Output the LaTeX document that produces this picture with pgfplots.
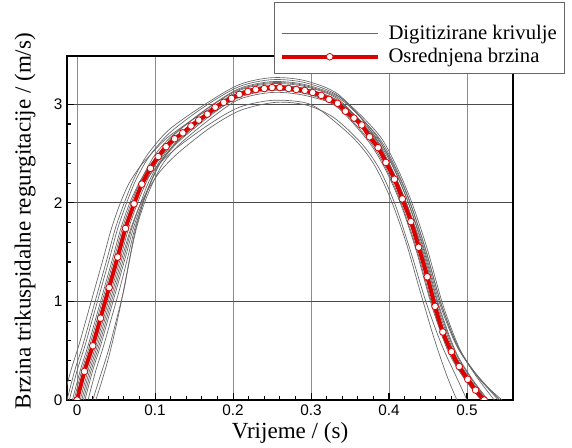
\documentclass[border=0pt]{standalone}
\usepackage{pgfplots}
\pgfplotsset{compat=1.18}
\usepackage{fontspec}
\setmainfont{Liberation Serif}
\newfontfamily\arialfont{Liberation Sans}
\definecolor{meanred}{RGB}{220,0,0}
\begin{document}
\begin{tikzpicture}
\begin{axis}[
  name=ax,
  scale only axis, width=334.5pt, height=258pt,
  xmin=-0.013, xmax=0.559, ymin=0, ymax=3.49,
  xtick={0,0.1,0.2,0.3,0.4,0.5}, ytick={0,1,2,3},
  minor x tick num=4, minor y tick num=4,
  tick align=inside, xtick pos=bottom, ytick pos=left,
  major tick length=5pt, minor tick length=3pt,
  xmajorgrids, ymajorgrids,
  x grid style={black!45, line width=0.6pt},
  y grid style={black!70, line width=0.6pt},
  axis line style={line width=1.3pt},
  every tick/.style={black, line width=0.8pt},
  ticklabel style={font=\arialfont\fontsize{11.5}{13}\selectfont},
  /pgf/number format/assume math mode=true,
  /pgf/number format/fixed,
  label style={font=\fontsize{17.3}{19}\selectfont},
  xlabel={Vrijeme / (s)},
  ylabel={Brzina trikuspidalne regurgitacije / (m/s)},
  xlabel style={at={(axis description cs:0.5,-0.095)}, anchor=center},
  ylabel style={at={(axis description cs:-0.094,0.52)}, anchor=center},
  clip marker paths=true,
  legend style={at={(axis description cs:0.464,1.157)}, anchor=north west,
    draw=black!60, fill=white, font=\fontsize{15.5}{18}\selectfont,
    inner xsep=4pt, inner ysep=4pt, row sep=1pt, cells={anchor=west}},
  legend image code/.code={\draw[mark repeat=2,mark phase=2,#1] plot coordinates {(0cm,0cm) (1.27cm,0cm) (2.54cm,0cm)};},
  gr/.style={black!60, line width=0.5pt, smooth, no markers},
]
\addlegendimage{empty legend}
\addlegendentry{\rule{0pt}{5pt}}
% Digitized curves
\addplot[gr] coordinates {(-0.018,0) (-0.008,0.30) (0.002,0.55) (0.012,0.83) (0.023,1.14) (0.034,1.45) (0.044,1.74) (0.055,1.99) (0.066,2.19) (0.079,2.35) (0.092,2.47) (0.117,2.67) (0.163,2.92) (0.208,3.12) (0.250,3.19) (0.292,3.16) (0.334,3.03) (0.375,2.68) (0.396,2.41) (0.417,2.04) (0.438,1.55) (0.459,0.95) (0.480,0.49) (0.501,0.21) (0.522,0)};
\addlegendentry{\hspace{4.5pt}Digitizirane krivulje}
\addplot[gr, forget plot] coordinates {(-0.010,0) (0.0,0.30) (0.010,0.55) (0.020,0.83) (0.031,1.14) (0.042,1.45) (0.052,1.74) (0.063,1.99) (0.074,2.21) (0.086,2.39) (0.097,2.52) (0.120,2.72) (0.164,2.98) (0.208,3.18) (0.250,3.25) (0.292,3.22) (0.336,3.08) (0.380,2.72) (0.401,2.44) (0.422,2.06) (0.443,1.56) (0.464,0.96) (0.485,0.50) (0.506,0.22) (0.527,0)};
\addplot[gr, forget plot] coordinates {(-0.004,0) (0.006,0.30) (0.016,0.55) (0.026,0.83) (0.037,1.14) (0.048,1.45) (0.058,1.74) (0.069,1.99) (0.080,2.20) (0.091,2.37) (0.101,2.50) (0.123,2.69) (0.166,2.95) (0.208,3.15) (0.250,3.22) (0.292,3.19) (0.338,3.05) (0.383,2.70) (0.404,2.43) (0.425,2.05) (0.446,1.55) (0.467,0.97) (0.488,0.55) (0.510,0.28) (0.530,0.10) (0.542,0)};
\addplot[gr, forget plot] coordinates {(0.004,0) (0.014,0.30) (0.024,0.55) (0.034,0.83) (0.045,1.14) (0.056,1.45) (0.066,1.74) (0.077,1.99) (0.087,2.18) (0.097,2.34) (0.107,2.46) (0.127,2.65) (0.168,2.92) (0.208,3.12) (0.250,3.19) (0.292,3.16) (0.336,3.03) (0.378,2.69) (0.399,2.42) (0.420,2.04) (0.441,1.55) (0.462,0.95) (0.483,0.49) (0.504,0.21) (0.525,0)};
\addplot[gr, forget plot] coordinates {(0.010,0) (0.020,0.30) (0.030,0.55) (0.040,0.83) (0.051,1.14) (0.062,1.45) (0.072,1.74) (0.082,1.97) (0.091,2.15) (0.100,2.31) (0.109,2.43) (0.130,2.62) (0.170,2.88) (0.208,3.08) (0.250,3.15) (0.292,3.12) (0.332,2.99) (0.372,2.66) (0.393,2.40) (0.414,2.03) (0.435,1.54) (0.456,0.95) (0.477,0.49) (0.498,0.21) (0.519,0)};
\addplot[gr, forget plot] coordinates {(0.020,0) (0.030,0.25) (0.040,0.50) (0.050,0.80) (0.060,1.12) (0.068,1.45) (0.076,1.74) (0.085,1.97) (0.094,2.15) (0.103,2.30) (0.112,2.42) (0.132,2.60) (0.172,2.86) (0.208,3.05) (0.250,3.12) (0.292,3.09) (0.336,2.97) (0.379,2.64) (0.400,2.40) (0.421,2.03) (0.442,1.55) (0.463,0.96) (0.484,0.50) (0.505,0.22) (0.526,0)};
\addplot[gr, forget plot] coordinates {(0.014,0) (0.024,0.30) (0.034,0.55) (0.044,0.83) (0.055,1.14) (0.065,1.45) (0.074,1.74) (0.084,1.99) (0.093,2.18) (0.102,2.34) (0.111,2.46) (0.131,2.64) (0.170,2.90) (0.208,3.10) (0.250,3.17) (0.292,3.14) (0.337,3.01) (0.381,2.67) (0.402,2.41) (0.423,2.04) (0.444,1.56) (0.465,0.98) (0.486,0.56) (0.508,0.30) (0.528,0.12) (0.545,0)};
\addplot[gr, forget plot] coordinates {(-0.002,0) (0.008,0.30) (0.018,0.55) (0.028,0.83) (0.039,1.14) (0.050,1.45) (0.060,1.74) (0.071,1.97) (0.082,2.15) (0.094,2.29) (0.106,2.40) (0.128,2.56) (0.170,2.80) (0.208,2.97) (0.250,3.04) (0.290,3.02) (0.312,2.94) (0.354,2.66) (0.380,2.40) (0.401,2.06) (0.421,1.62) (0.440,1.10) (0.458,0.62) (0.474,0.25) (0.487,0)};
\addplot[gr, forget plot] coordinates {(0.006,0) (0.016,0.30) (0.026,0.55) (0.036,0.83) (0.047,1.14) (0.058,1.45) (0.068,1.72) (0.079,1.95) (0.090,2.12) (0.101,2.26) (0.112,2.37) (0.133,2.53) (0.172,2.77) (0.210,2.94) (0.255,3.02) (0.295,2.99) (0.330,2.86) (0.365,2.60) (0.388,2.34) (0.408,1.98) (0.428,1.50) (0.448,0.98) (0.468,0.55) (0.486,0.24) (0.500,0)};
\addplot[gr, forget plot] coordinates {(-0.013,0) (-0.003,0.30) (0.007,0.55) (0.017,0.83) (0.028,1.14) (0.039,1.45) (0.049,1.74) (0.060,1.99) (0.071,2.21) (0.083,2.40) (0.095,2.54) (0.119,2.75) (0.164,3.00) (0.208,3.20) (0.250,3.27) (0.292,3.24) (0.335,3.10) (0.376,2.74) (0.397,2.45) (0.418,2.06) (0.439,1.56) (0.460,0.95) (0.481,0.49) (0.502,0.21) (0.523,0)};
\addplot[gr, forget plot] coordinates {(0.001,0) (0.011,0.30) (0.021,0.55) (0.031,0.83) (0.042,1.14) (0.053,1.45) (0.063,1.74) (0.074,1.99) (0.084,2.20) (0.095,2.37) (0.105,2.50) (0.126,2.70) (0.167,2.96) (0.208,3.16) (0.250,3.23) (0.292,3.20) (0.339,3.06) (0.385,2.71) (0.406,2.43) (0.427,2.05) (0.448,1.56) (0.469,0.97) (0.490,0.53) (0.511,0.25) (0.535,0)};
\addplot[gr, forget plot] coordinates {(0.008,0) (0.018,0.30) (0.028,0.55) (0.038,0.83) (0.049,1.14) (0.060,1.45) (0.070,1.74) (0.081,1.99) (0.090,2.18) (0.100,2.34) (0.109,2.46) (0.129,2.66) (0.169,2.93) (0.208,3.14) (0.250,3.21) (0.292,3.18) (0.335,3.05) (0.376,2.70) (0.397,2.42) (0.418,2.04) (0.439,1.55) (0.460,0.95) (0.481,0.49) (0.502,0.21) (0.523,0)};
\addplot[gr, forget plot] coordinates {(-0.006,0) (0.004,0.30) (0.014,0.55) (0.024,0.83) (0.035,1.14) (0.046,1.45) (0.056,1.74) (0.067,1.99) (0.078,2.18) (0.089,2.33) (0.100,2.45) (0.122,2.62) (0.165,2.87) (0.208,3.07) (0.250,3.14) (0.292,3.11) (0.332,2.98) (0.371,2.65) (0.392,2.39) (0.413,2.03) (0.434,1.54) (0.455,0.95) (0.476,0.49) (0.497,0.21) (0.518,0)};
\addplot[gr, forget plot] coordinates {(0.024,0) (0.032,0.20) (0.041,0.45) (0.050,0.75) (0.058,1.05) (0.066,1.38) (0.074,1.70) (0.083,1.96) (0.092,2.16) (0.101,2.32) (0.110,2.45) (0.130,2.64) (0.170,2.90) (0.208,3.10) (0.250,3.17) (0.292,3.14) (0.338,3.01) (0.383,2.67) (0.404,2.41) (0.425,2.04) (0.446,1.55) (0.467,0.97) (0.488,0.54) (0.510,0.27) (0.530,0.09) (0.540,0)};
% Mean curve
\addplot[meanred, line width=3pt, smooth, mark=*, mark size=2.5pt,
  mark options={fill=white, draw=meanred, line width=0.6pt, solid}] coordinates {
(0,0) (0.0094,0.29) (0.020,0.55) (0.030,0.83) (0.041,1.14) (0.052,1.45) (0.062,1.74) (0.073,1.99) (0.083,2.19) (0.094,2.35) (0.104,2.47) (0.114,2.57) (0.125,2.65) (0.1355,2.71) (0.146,2.78) (0.156,2.84) (0.167,2.90) (0.177,2.97) (0.188,3.02) (0.198,3.06) (0.208,3.10) (0.219,3.13) (0.229,3.15) (0.240,3.16) (0.250,3.17) (0.260,3.17) (0.271,3.16) (0.281,3.15) (0.292,3.14) (0.302,3.12) (0.313,3.09) (0.323,3.05) (0.334,3.01) (0.344,2.93) (0.355,2.86) (0.365,2.79) (0.375,2.67) (0.386,2.56) (0.396,2.41) (0.407,2.24) (0.417,2.04) (0.428,1.81) (0.438,1.55) (0.449,1.25) (0.459,0.95) (0.469,0.69) (0.480,0.49) (0.490,0.34) (0.501,0.21) (0.511,0.10) (0.522,0)};
\addlegendentry{\hspace{4.5pt}Osrednjena brzina}
\end{axis}
\pgfresetboundingbox
\path[use as bounding box] ([xshift=-50.25pt,yshift=-36pt]ax.south west) rectangle ([xshift=378.75pt,yshift=300pt]ax.south west);
\end{tikzpicture}
\end{document}
